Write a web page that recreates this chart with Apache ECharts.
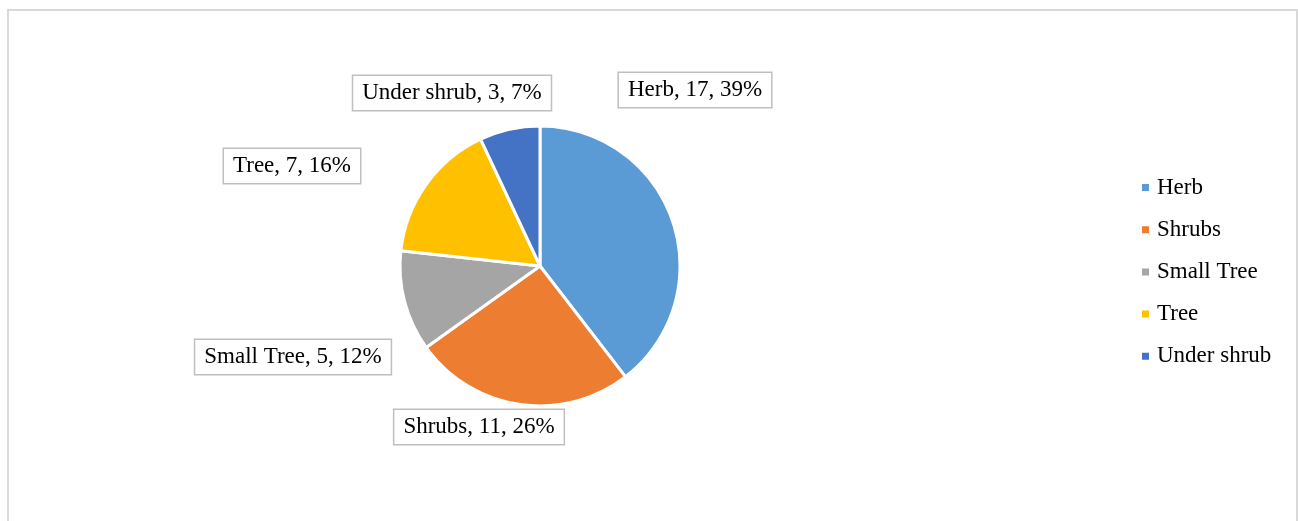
<!DOCTYPE html>
<html>
<head>
<meta charset="utf-8">
<script src="https://cdn.jsdelivr.net/npm/echarts@6/dist/echarts.min.js"></script>
<style>
  html, body { margin: 0; padding: 0; background: #fff; }
  #chart { width: 1298px; height: 521px; }
</style>
</head>
<body>
<div id="chart"></div>
<script>
// data
let categories = ['Herb', 'Shrubs', 'Small Tree', 'Tree', 'Under shrub'];
let counts = [17, 11, 5, 7, 3];
let colors = ['#5B9BD5', '#ED7D31', '#A5A5A5', '#FFC000', '#4472C4'];

// where each data label box sits (centre)
let labelSpots = [[695, 90], [479, 427], [293, 357], [292, 166], [452, 93]];

let myChart = echarts.init(document.getElementById('chart'));

let option = {
    backgroundColor: '#fff',
    color: colors,
    textStyle: { fontFamily: 'Liberation Serif' },
    graphic: [{
        type: 'rect',
        shape: { x: 8, y: 10, width: 1289, height: 600 },
        style: { fill: 'none', stroke: '#d9d9d9', lineWidth: 2 },
        silent: true
    }],
    legend: {
        orient: 'vertical',
        left: 1135,
        top: 171,
        itemWidth: 9,
        itemHeight: 9,
        itemGap: 19.2,
        icon: 'rect',
        data: categories,
        textStyle: {
            fontFamily: 'Liberation Serif',
            fontSize: 23,
            color: '#000',
            padding: [0, 0, 0, 2]
        }
    },
    series: [{
        type: 'pie',
        center: [540, 266],
        radius: 140,
        startAngle: 90,
        clockwise: true,
        animation: false,
        percentPrecision: 0,
        itemStyle: { borderColor: '#fff', borderWidth: 3 },
        label: {
            show: true,
            position: 'outside',
            formatter: '{b}, {c}, {d}%',
            fontFamily: 'Liberation Serif',
            fontSize: 23,
            color: '#000',
            backgroundColor: '#fff',
            borderColor: '#bfbfbf',
            borderWidth: 1.5,
            padding: [6, 9, 5, 9]
        },
        labelLine: { show: false },
        labelLayout: function (params) {
            let p = labelSpots[params.dataIndex];
            return { x: p[0], y: p[1], align: 'center', verticalAlign: 'middle' };
        },
        data: categories.map(function (name, i) {
            return { name: name, value: counts[i] };
        })
    }]
};

myChart.setOption(option);
</script>
</body>
</html>
